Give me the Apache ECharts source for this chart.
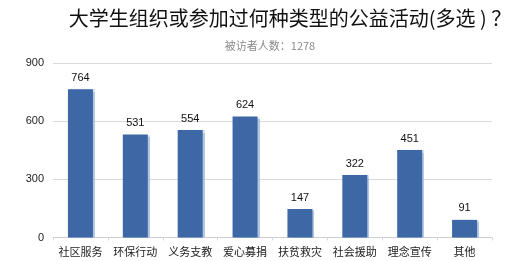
<!DOCTYPE html>
<html><head><meta charset="utf-8">
<script src="https://cdn.jsdelivr.net/npm/echarts@6/dist/echarts.min.js"></script>
<style>html,body{margin:0;padding:0;background:#fff}#c{width:507px;height:261px}</style>
</head><body><div id="c"></div>
<script>
const categories = ['社区服务','环保行动','义务支教','爱心募捐','扶贫救灾','社会援助','理念宣传','其他'];
const values = [764, 531, 554, 624, 147, 322, 451, 91];
const yTicks = [0, 300, 600, 900];
const titleText = '大学生组织或参加过何种类型的公益活动(多选 ) ？';
const subText = '被访者人数：1278';

const chart = echarts.init(document.getElementById('c'));
chart.setOption({
  animation: false,
  title: [{
    text: titleText, left: 285, top: 3, textAlign: 'center',
    textStyle: {fontFamily: 'Noto Sans CJK SC', fontSize: 20, fontWeight: 'normal', color: '#111'}
  },{
    text: subText, left: 265, top: 35, textAlign: 'center',
    textStyle: {fontFamily: 'Noto Sans CJK SC', fontSize: 11, fontWeight: 'normal', color: '#8a8a8a'}
  }],
  grid: {left: 53, right: 15, top: 63, bottom: 23.5, containLabel: false},
  xAxis: {
    type: 'category', data: categories,
    axisLine: {lineStyle: {color: '#cfcfcf'}},
    axisTick: {show: true, lineStyle: {color: '#d8d8d8'}, length: 3},
    axisLabel: {fontFamily: 'Noto Sans CJK SC', fontSize: 11, color: '#222', margin: 9, interval: 0}
  },
  yAxis: {
    type: 'value', min: 0, max: 900, interval: 300,
    axisLine: {show: false}, axisTick: {show: false},
    splitLine: {lineStyle: {color: '#d9d9d9'}},
    axisLabel: {fontFamily: 'Liberation Sans', fontSize: 11, color: '#222', margin: 9,
      formatter: v => yTicks.includes(v) ? String(v) : ''}
  },
  series: [{
    type: 'bar', data: values, barWidth: 25,
    itemStyle: {color: '#3e68a5', shadowColor: 'rgba(160,185,220,0.8)', shadowOffsetX: 2, shadowOffsetY: 0, shadowBlur: 1},
    label: {show: true, position: 'top', distance: 6, fontFamily: 'Liberation Sans', fontSize: 11, color: '#111'}
  }]
});
</script></body></html>
